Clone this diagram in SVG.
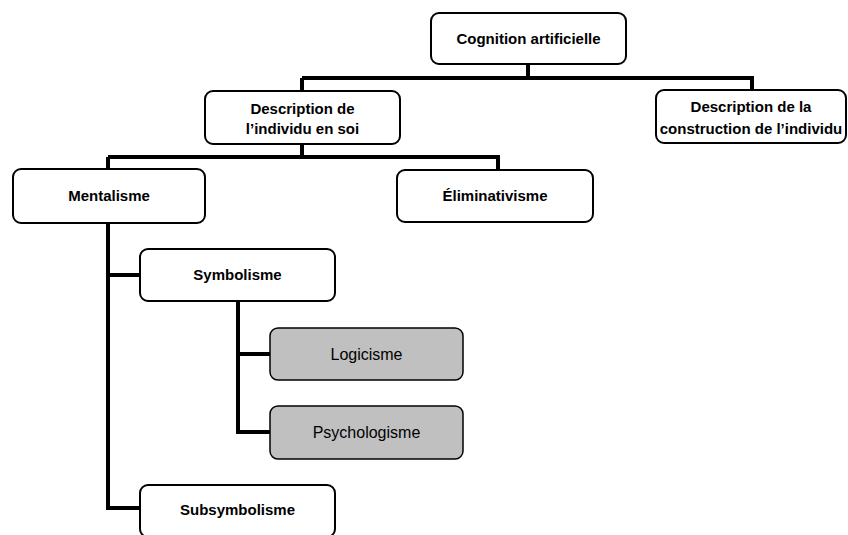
<svg xmlns="http://www.w3.org/2000/svg" width="848" height="535" viewBox="0 0 848 535">
<style>
.box{fill:#ffffff;stroke:#000000;stroke-width:2}
.grey{fill:#c0c0c0;stroke:#000000;stroke-width:1.5}
.t{font-family:"Liberation Sans",Arial,sans-serif;font-size:15px;font-weight:bold;fill:#000000;text-anchor:middle}
.r{font-family:"Liberation Sans",Arial,sans-serif;font-size:16px;fill:#000000;text-anchor:middle}
.c{fill:none;stroke:#000000;stroke-width:4;stroke-linejoin:miter}
</style>
<rect width="848" height="535" fill="#ffffff"/>
<g id="connectors">
<path class="c" d="M528,64 V78 M302,78 H752 V91 M302,78 V91"/>
<path class="c" d="M302,144 V157 M108,157 H498 V170 M108,157 V169"/>
<path class="c" d="M108,223 V508 H140 M108,275 H140"/>
<path class="c" d="M238,301 V432 H270 M238,354 H270"/>
</g>
<g id="cognition">
<rect class="box" x="431" y="13" width="195" height="51" rx="8"/>
<text class="t" x="528.5" y="44">Cognition artificielle</text>
</g>
<g id="individu-en-soi">
<rect class="box" x="205" y="91" width="195" height="53" rx="8"/>
<text class="t" x="302.5" y="114">Description de</text>
<text class="t" x="302.5" y="134">l’individu en soi</text>
</g>
<g id="construction">
<rect class="box" x="656" y="90" width="190" height="53" rx="8"/>
<text class="t" x="751" y="112">Description de la</text>
<text class="t" x="751" y="134">construction de l’individu</text>
</g>
<g id="mentalisme">
<rect class="box" x="13" y="169" width="192" height="54" rx="8"/>
<text class="t" x="109" y="201">Mentalisme</text>
</g>
<g id="eliminativisme">
<rect class="box" x="397" y="170" width="196" height="52" rx="8"/>
<text class="t" x="495" y="201">Éliminativisme</text>
</g>
<g id="symbolisme">
<rect class="box" x="140" y="249" width="195" height="52" rx="8"/>
<text class="t" x="237.5" y="280">Symbolisme</text>
</g>
<g id="logicisme">
<rect class="grey" x="270" y="328" width="193" height="52" rx="8"/>
<text class="r" x="366.5" y="360">Logicisme</text>
</g>
<g id="psychologisme">
<rect class="grey" x="270" y="406" width="193" height="53" rx="8"/>
<text class="r" x="366.5" y="438">Psychologisme</text>
</g>
<g id="subsymbolisme">
<rect class="box" x="140" y="485" width="195" height="52" rx="8"/>
<text class="t" x="237.5" y="515">Subsymbolisme</text>
</g>
</svg>
